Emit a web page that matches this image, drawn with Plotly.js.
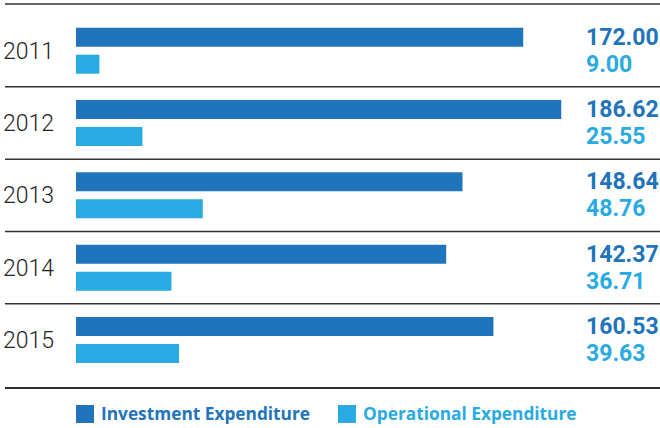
<!DOCTYPE html>
<html>
<head>
<meta charset="utf-8">
<script src="https://cdn.plot.ly/plotly-3.0.1.min.js"></script>
<style>html,body{margin:0;padding:0;background:#fff;}#chart{width:660px;height:428px;}</style>
</head>
<body>
<div id="chart"></div>
<script>
// ---- data ----
var years = ['2011', '2012', '2013', '2014', '2015'];
var investment = [172.00, 186.62, 148.64, 142.37, 160.53];
var operational = [9.00, 25.55, 48.76, 36.71, 39.63];
var seriesNames = ['Investment Expenditure', 'Operational Expenditure'];

// ---- styles ----
var darkBlue = '#1F74BC';
var lightBlue = '#29AAE2';
var lineColor = '#333333';
var numFont = 'Roboto, Open Sans, sans-serif';
var legFont = 'Open Sans, Noto Sans, sans-serif';
var yearFont = 'Roboto, Inter, sans-serif';

function fmt(v) { return v.toFixed(2); }

var traces = [
  {
    type: 'bar', orientation: 'h', name: seriesNames[0],
    y: years, x: investment,
    width: 0.263, offset: -0.318,
    marker: {color: darkBlue}, hoverinfo: 'x+y', showlegend: false
  },
  {
    type: 'bar', orientation: 'h', name: seriesNames[1],
    y: years, x: operational,
    width: 0.263, offset: 0.055,
    marker: {color: lightBlue}, hoverinfo: 'x+y', showlegend: false
  }
];

var annotations = [];
years.forEach(function (yr, i) {
  annotations.push({
    xref: 'paper', yref: 'y', x: 0.870, y: i - 0.187,
    xanchor: 'left', yanchor: 'middle', showarrow: false,
    text: '<b>' + fmt(investment[i]) + '</b>',
    font: {family: numFont, size: 23, color: darkBlue}
  });
  annotations.push({
    xref: 'paper', yref: 'y', x: 0.870, y: i + 0.187,
    xanchor: 'left', yanchor: 'middle', showarrow: false,
    text: '<b>' + fmt(operational[i]) + '</b>',
    font: {family: numFont, size: 23, color: lightBlue}
  });
});

// manual legend
var legendColors = [darkBlue, lightBlue];
var legendX = [0, 0.4486];
var shapes = [];
seriesNames.forEach(function (nm, k) {
  shapes.push({
    type: 'rect', xref: 'paper', yref: 'paper',
    x0: legendX[k], x1: legendX[k] + 0.0308, y0: -0.0911, y1: -0.0443,
    fillcolor: legendColors[k], line: {width: 0}
  });
  annotations.push({
    xref: 'paper', yref: 'paper', x: legendX[k] + 0.0394, y: -0.0677,
    xanchor: 'left', yanchor: 'middle', showarrow: false,
    text: '<b>' + nm + '</b>',
    font: {family: legFont, size: 17.3, color: legendColors[k]}
  });
});

// separator lines
var lx0 = -0.1216;
shapes.push({type: 'line', xref: 'paper', yref: 'paper', x0: lx0, x1: 1, y0: 1, y1: 1,
  line: {color: lineColor, width: 1.5}});
for (var i = 0; i < years.length - 1; i++) {
  shapes.push({type: 'line', xref: 'paper', yref: 'y', x0: lx0, x1: 1, y0: i + 0.5, y1: i + 0.5,
    line: {color: lineColor, width: 1.5}});
}
shapes.push({type: 'line', xref: 'paper', yref: 'paper', x0: lx0, x1: 1, y0: 0, y1: 0,
  line: {color: lineColor, width: 2}});

var layout = {
  width: 660, height: 428,
  margin: {l: 76, r: 0, t: 4, b: 40},
  paper_bgcolor: '#ffffff', plot_bgcolor: '#ffffff',
  barmode: 'overlay',
  showlegend: false,
  xaxis: {range: [0, 224.6], showgrid: false, zeroline: false, showticklabels: false, showline: false, fixedrange: true},
  yaxis: {
    type: 'category', categoryorder: 'array', categoryarray: years,
    range: [4.664, -0.646],
    showgrid: false, zeroline: false, showline: false, ticks: '',
    ticklabelstandoff: 21,
    tickfont: {family: yearFont, size: 23, color: '#222222', weight: 300},
    fixedrange: true
  },
  shapes: shapes,
  annotations: annotations
};

Plotly.newPlot('chart', traces, layout, {displayModeBar: false, staticPlot: true});
</script>
</body>
</html>
